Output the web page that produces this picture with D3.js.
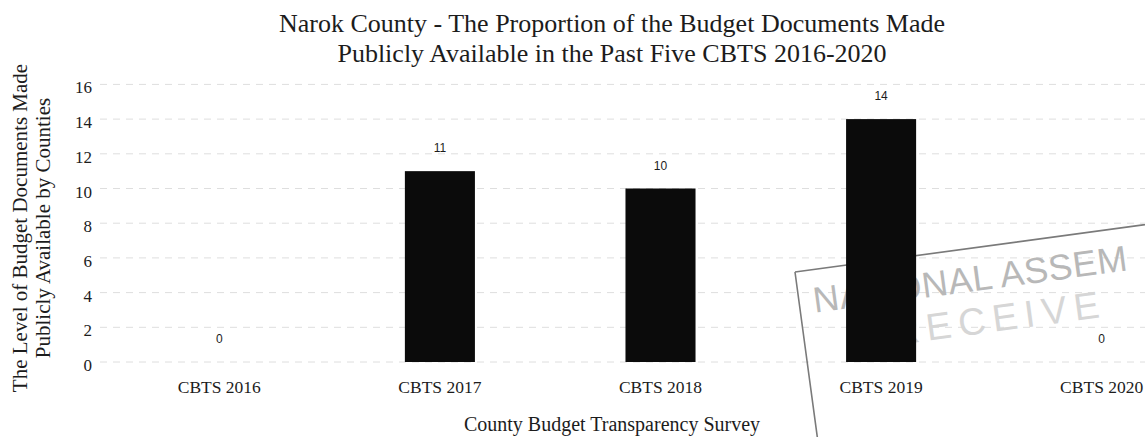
<!DOCTYPE html>
<html>
<head>
<meta charset="utf-8">
<script src="https://cdn.jsdelivr.net/npm/d3@7"></script>
<style>
  html, body { margin: 0; padding: 0; background: #ffffff; }
  svg { display: block; }
</style>
</head>
<body>
<svg id="chart" width="1145" height="437"></svg>
<script>
// ---- data ----
const categories = ["CBTS 2016", "CBTS 2017", "CBTS 2018", "CBTS 2019", "CBTS 2020"];
const values = [0, 11, 10, 14, 0];
const yTicks = [0, 2, 4, 6, 8, 10, 12, 14, 16];
const titleLines = ["Narok County - The Proportion of the Budget Documents Made",
                    "Publicly Available in the Past Five CBTS 2016-2020"];
const yTitleLines = ["The Level of Budget Documents Made", "Publicly Available by Counties"];
const xTitle = "County Budget Transparency Survey";
// visible fragments of the scanned "received" stamp (cut off at the page edge)
const stampLines = ["NATIONAL ASSEM", "RECEIVE"];

// ---- setup ----
const W = 1145, H = 437;
const serif = "'Liberation Serif', 'DejaVu Serif', serif";
const sans = "'Liberation Sans', Arial, sans-serif";
const ink = "#1c1c1c";
const svg = d3.select("#chart");

const x = d3.scaleBand()
  .domain(categories)
  .range([109, 1212])
  .paddingInner(0.6825)
  .paddingOuter(0.34125);

const y = d3.scaleLinear().domain([0, 16]).range([362, 84.4]);

// ---- gridlines ----
svg.append("g")
  .selectAll("line")
  .data(yTicks)
  .join("line")
  .attr("x1", 100).attr("x2", W)
  .attr("y1", d => y(d)).attr("y2", d => y(d))
  .attr("stroke", "#dedede")
  .attr("stroke-width", 1)
  .attr("stroke-dasharray", "7,6");

// ---- scan stamp (background) ----
const stamp = svg.append("g").attr("transform", "translate(795,272) rotate(-7.7)");
stamp.append("path")
  .attr("d", "M0,0 H420 M0,0 V200")
  .attr("fill", "none")
  .attr("stroke", "#7a7a7a")
  .attr("stroke-width", 1.6);
stamp.selectAll("text")
  .data(stampLines)
  .join("text")
  .attr("x", (d, i) => i === 0 ? 14 : 88)
  .attr("y", (d, i) => i === 0 ? 43 : 86)
  .attr("font-family", sans)
  .attr("font-size", (d, i) => i === 0 ? 36 : 38)
  .attr("letter-spacing", (d, i) => i === 0 ? 0.5 : 7)
  .attr("fill", (d, i) => i === 0 ? "#b8b8b8" : "#d6d6d6")
  .text(d => d);

// ---- bars ----
svg.append("g")
  .selectAll("rect")
  .data(categories.map((c, i) => ({ c, v: values[i] })))
  .join("rect")
  .attr("x", d => x(d.c))
  .attr("width", x.bandwidth())
  .attr("y", d => y(d.v))
  .attr("height", d => y(0) - y(d.v))
  .attr("fill", "#0b0b0b");

// ---- value labels ----
svg.append("g")
  .selectAll("text")
  .data(categories.map((c, i) => ({ c, v: values[i] })))
  .join("text")
  .attr("x", d => x(d.c) + x.bandwidth() / 2)
  .attr("y", d => y(d.v) - 19)
  .attr("text-anchor", "middle")
  .attr("font-family", sans)
  .attr("font-size", 12)
  .attr("fill", ink)
  .text(d => d.v);

// ---- y axis ----
const yAxis = svg.append("g")
  .attr("transform", "translate(100,0)")
  .call(d3.axisLeft(y).tickValues(yTicks).tickSize(0).tickPadding(8));
yAxis.select(".domain").remove();
yAxis.selectAll("text")
  .attr("font-family", serif)
  .attr("font-size", 17)
  .attr("fill", ink)
  .attr("dy", "0.5em");

// ---- x axis ----
const xAxis = svg.append("g")
  .attr("transform", `translate(0,${y(0)})`)
  .call(d3.axisBottom(x).tickSize(0).tickPadding(19));
xAxis.select(".domain").remove();
xAxis.selectAll("text")
  .attr("font-family", serif)
  .attr("font-size", 17.5)
  .attr("fill", ink);

// ---- titles ----
svg.append("g")
  .selectAll("text")
  .data(titleLines)
  .join("text")
  .attr("x", 612)
  .attr("y", (d, i) => 32 + i * 30)
  .attr("text-anchor", "middle")
  .attr("font-family", serif)
  .attr("font-size", 26)
  .attr("fill", ink)
  .text(d => d);

svg.append("text")
  .attr("x", 612)
  .attr("y", 431)
  .attr("text-anchor", "middle")
  .attr("font-family", serif)
  .attr("font-size", 20)
  .attr("fill", ink)
  .text(xTitle);

svg.append("g")
  .selectAll("text")
  .data(yTitleLines)
  .join("text")
  .attr("transform", (d, i) => `translate(${27 + i * 23},228) rotate(-90)`)
  .attr("text-anchor", "middle")
  .attr("font-family", serif)
  .attr("font-size", 21)
  .attr("fill", ink)
  .text(d => d);
</script>
</body>
</html>
